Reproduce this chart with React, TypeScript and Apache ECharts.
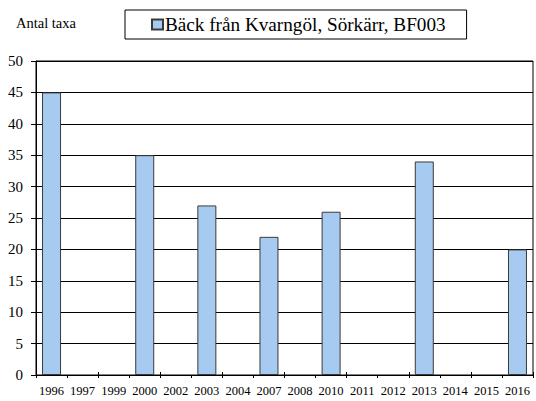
import React, { useEffect, useRef } from "react";
import * as echarts from "echarts";

const categories = ["1996", "1997", "1999", "2000", "2002", "2003", "2004", "2007", "2008", "2010", "2011", "2012", "2013", "2014", "2015", "2016"];
const values: (number | null)[] = [45, null, null, 35, null, 27, null, 22, null, 26, null, null, 34, null, null, 20];
const seriesName = "Bäck från Kvarngöl, Sörkärr, BF003";
const yTitle = "Antal taxa";

const FONT = "Liberation Serif";

export default function App() {
  const ref = useRef<HTMLDivElement>(null);
  useEffect(() => {
    if (!ref.current) return;
    const chart = echarts.init(ref.current, null, { renderer: "svg" });
    chart.setOption({
      animation: false,
      backgroundColor: "#fff",
      textStyle: { fontFamily: FONT, color: "#000" },
      graphic: [
        {
          type: "text",
          x: 16,
          y: 22.5,
          style: {
            text: yTitle,
            fontFamily: FONT,
            fontSize: 14.5,
            fill: "#000",
            textAlign: "left",
            textVerticalAlign: "middle",
          },
        },
      ],
      legend: {
        left: 125,
        top: 10,
        data: [seriesName],
        icon: "rect",
        itemWidth: 11,
        itemHeight: 10,
        itemGap: 4,
        borderColor: "#000",
        borderWidth: 1,
        padding: [4, 21, 4, 26],
        textStyle: { fontFamily: FONT, fontSize: 19.2, lineHeight: 21, color: "#000", padding: [0, 0, 0, -3] },
      },
      grid: {
        left: 36,
        right: 3,
        top: 61,
        bottom: 26,
        show: true,
        borderColor: "#000",
        borderWidth: 1,
        containLabel: false,
      },
      xAxis: [
        {
          type: "category",
          data: categories,
          axisLine: { show: true, lineStyle: { color: "#000", width: 1 } },
          axisTick: { show: true, alignWithLabel: false, length: 3, lineStyle: { color: "#000" } },
          axisLabel: { fontFamily: FONT, fontSize: 12.5, color: "#000", margin: 9, interval: 0 },
          splitLine: { show: false },
        },
        {
          type: "category",
          data: categories,
          position: "bottom",
          axisLine: { show: false },
          axisTick: { show: true, inside: true, alignWithLabel: false, length: 3, lineStyle: { color: "#000" } },
          axisLabel: { show: false },
          splitLine: { show: false },
        },
      ],
      yAxis: {
        type: "value",
        min: 0,
        max: 50,
        interval: 5,
        axisLine: { show: true, lineStyle: { color: "#000", width: 1 } },
        axisTick: { show: true, length: 5, lineStyle: { color: "#000" } },
        axisLabel: { fontFamily: FONT, fontSize: 15, color: "#000", margin: 13 },
        splitLine: { show: true, lineStyle: { color: "#000", width: 1 } },
      },
      series: [
        {
          name: seriesName,
          type: "bar",
          xAxisIndex: 0,
          data: values,
          barWidth: 19,
          itemStyle: { color: "#A6CAF0", borderColor: "#3a3a3a", borderWidth: 1 },
        },
      ],
    });
    return () => chart.dispose();
  }, []);
  return <div ref={ref} style={{ width: 536, height: 401, position: "absolute", left: 0, top: 0 }} />;
}
